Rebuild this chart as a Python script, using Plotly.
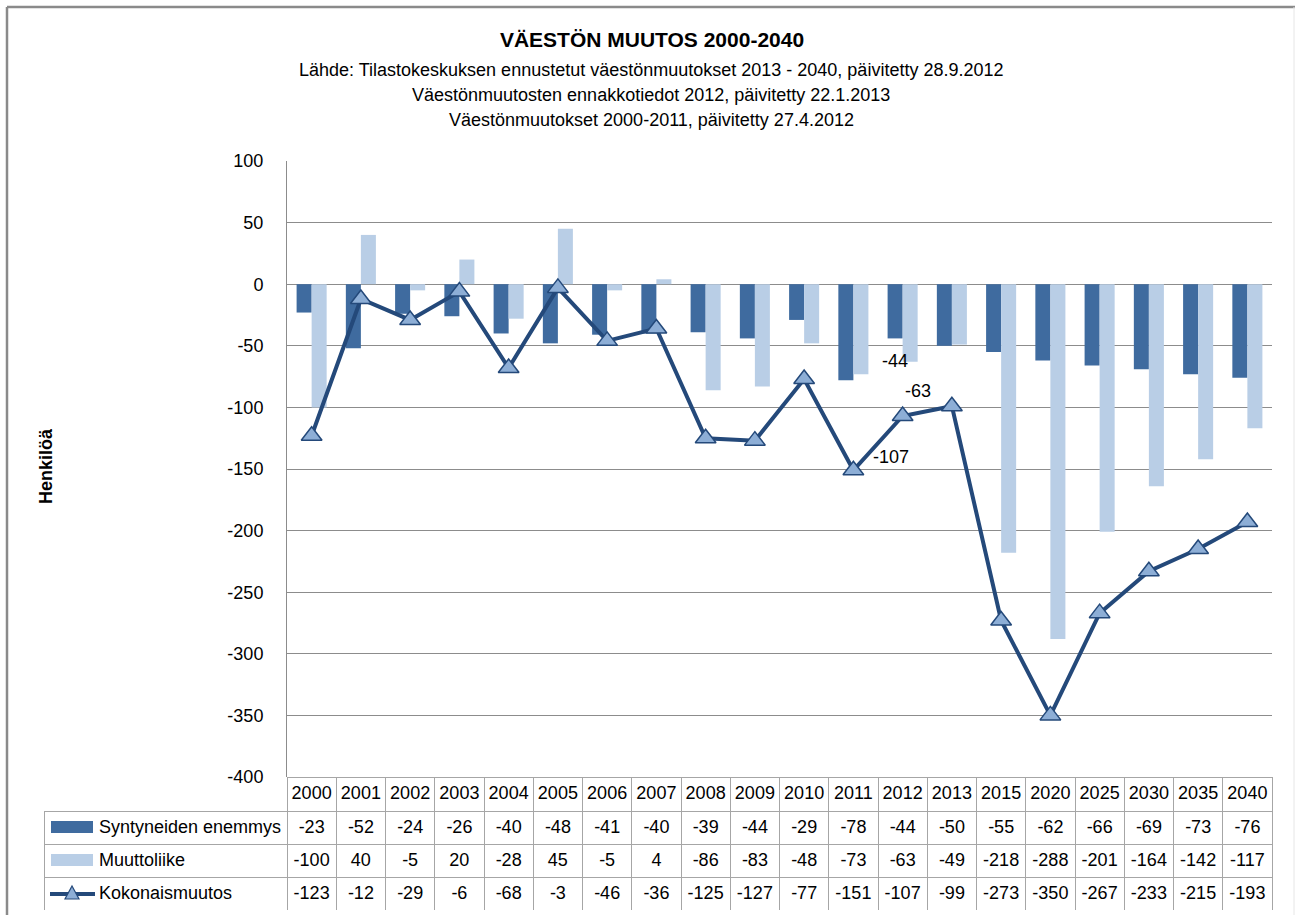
import plotly.graph_objects as go

years = ["2000", "2001", "2002", "2003", "2004", "2005", "2006", "2007", "2008", "2009",
         "2010", "2011", "2012", "2013", "2015", "2020", "2025", "2030", "2035", "2040"]
syntyneiden = [-23, -52, -24, -26, -40, -48, -41, -40, -39, -44,
               -29, -78, -44, -50, -55, -62, -66, -69, -73, -76]
muuttoliike = [-100, 40, -5, 20, -28, 45, -5, 4, -86, -83,
               -48, -73, -63, -49, -218, -288, -201, -164, -142, -117]
kokonais = [-123, -12, -29, -6, -68, -3, -46, -36, -125, -127,
            -77, -151, -107, -99, -273, -350, -267, -233, -215, -193]
series_names = ["Syntyneiden enemmys", "Muuttoliike", "Kokonaismuutos"]
y_tickvals = [100, 50, 0, -50, -100, -150, -200, -250, -300, -350, -400]
y_ticktext = ["100", "50", "0", "-50", "-100", "-150", "-200", "-250", "-300", "-350", "-400"]

W, H = 1295, 915
FONT = "Liberation Sans, Arial, sans-serif"
DARK = "#3F6B9F"
LIGHT = "#B9CEE6"
LINE = "#24497A"
MARK = "#8DAED6"
GRID = "#8C8C8C"
TBL = "#A6A6A6"
CLEAR = "rgba(0,0,0,0)"

def px(x):
    return x / W

def py(y):
    return 1 - y / H

fig = go.Figure()
fig.add_trace(go.Bar(x=years, y=syntyneiden, name=series_names[0], marker=dict(color=DARK, line=dict(width=0))))
fig.add_trace(go.Bar(x=years, y=muuttoliike, name=series_names[1], marker=dict(color=LIGHT, line=dict(width=0))))
fig.add_trace(go.Scatter(x=years, y=kokonais, name=series_names[2], mode="lines+markers",
                         line=dict(color=LINE, width=4),
                         marker=dict(symbol="triangle-up", size=18, color=MARK,
                                     line=dict(color=LINE, width=1.5))))

# data table
header_vals = [""] + years
cell_vals = [["", "", ""]] + [[str(a), str(b), str(c)] for a, b, c in zip(syntyneiden, muuttoliike, kokonais)]
fig.add_trace(go.Table(
    domain=dict(x=[px(44), px(1272)], y=[py(910), py(777)]),
    columnwidth=[243] + [49.25] * len(years),
    header=dict(values=header_vals, height=34, align="center",
                fill=dict(color=[CLEAR] + ["white"] * len(years)),
                line=dict(color=[CLEAR] + [TBL] * len(years), width=1),
                font=dict(family=FONT, size=18, color="black")),
    cells=dict(values=cell_vals, height=33, align="center",
               fill=dict(color="white"),
               line=dict(color=TBL, width=1),
               font=dict(family=FONT, size=18, color="black")),
))

annotations = [
    dict(text="Lähde: Tilastokeskuksen ennustetut väestönmuutokset 2013 - 2040, päivitetty 28.9.2012", x=px(651), y=py(70), font=dict(size=18)),
    dict(text="Väestönmuutosten ennakkotiedot 2012, päivitetty 22.1.2013", x=px(651), y=py(95), font=dict(size=18)),
    dict(text="Väestönmuutokset 2000-2011, päivitetty 27.4.2012", x=px(651), y=py(120), font=dict(size=18)),
    dict(text="<b>Henkilöä</b>", x=px(46), y=py(466), textangle=-90, font=dict(size=18)),
]
for a in annotations:
    a.update(xref="paper", yref="paper", showarrow=False, xanchor="center", yanchor="middle")
    a["font"].update(family=FONT, color="black")

for name, yy in zip(series_names, [827, 860, 893]):
    annotations.append(dict(text=name, xref="paper", yref="paper", x=px(97), y=py(yy),
                            xanchor="left", yanchor="middle", showarrow=False,
                            font=dict(family=FONT, size=18, color="black")))

i12 = years.index("2012")
for val, yv, xs in [(syntyneiden[i12], -62.6, -8), (muuttoliike[i12], -86.9, 15), (kokonais[i12], -140.5, -12)]:
    annotations.append(dict(text=str(val), xref="x", yref="y", x=i12, y=yv, xshift=xs,
                            showarrow=False, font=dict(family=FONT, size=18, color="black")))

shapes = [
    dict(type="line", xref="paper", yref="paper", x0=px(7), x1=px(1295), y0=py(7), y1=py(7),
         line=dict(color="#8A8A8A", width=2.5)),
    dict(type="line", xref="paper", yref="paper", x0=px(7), x1=px(7), y0=py(7), y1=py(915),
         line=dict(color="#8A8A8A", width=2.5)),
    dict(type="line", xref="paper", yref="paper", x0=px(1294), x1=px(1294), y0=py(7), y1=py(915),
         line=dict(color="#E6E6E6", width=1)),
    dict(type="rect", xref="paper", yref="paper", x0=px(51), x1=px(93), y0=py(833), y1=py(821),
         fillcolor=DARK, line=dict(width=0)),
    dict(type="rect", xref="paper", yref="paper", x0=px(51), x1=px(93), y0=py(866), y1=py(854),
         fillcolor=LIGHT, line=dict(width=0)),
    dict(type="line", xref="paper", yref="paper", x0=px(50), x1=px(95), y0=py(894), y1=py(894),
         line=dict(color=LINE, width=4)),
    dict(type="path", xref="paper", yref="paper",
         path=f"M {px(65)} {py(899)} L {px(79)} {py(899)} L {px(72)} {py(886)} Z",
         fillcolor=MARK, line=dict(color=LINE, width=1.2)),
]

fig.update_layout(
    width=W, height=H,
    margin=dict(l=0, r=0, t=0, b=0, pad=0, autoexpand=False),
    title=dict(text="<b>VÄESTÖN MUUTOS 2000-2040</b>", xref="container", yref="container",
               x=652 / W, y=1 - 40 / H, xanchor="center", yanchor="middle",
               font=dict(family=FONT, size=21, color="black")),
    paper_bgcolor="white", plot_bgcolor="white",
    barmode="group", bargap=0.39, bargroupgap=0,
    showlegend=False,
    font=dict(family=FONT, size=18, color="black"),
    xaxis=dict(domain=[px(287), px(1272)], type="category", range=[-0.5, len(years) - 0.5],
               showticklabels=False, showgrid=False, zeroline=False, showline=False, ticks=""),
    yaxis=dict(domain=[py(777), py(161)], range=[-400, 100],
               tickvals=y_tickvals, ticktext=y_ticktext,
               showgrid=True, gridcolor=GRID, gridwidth=1, zeroline=False,
               showline=True, linecolor=GRID, linewidth=1, ticks="",
               tickfont=dict(family=FONT, size=18, color="black"),
               ticklabelstandoff=19),
    annotations=annotations,
    shapes=shapes,
)

fig.write_html("out.html", include_plotlyjs=True, config={"displayModeBar": False},
               post_script=("document.body.style.margin='0';"
                            "document.body.style.overflow='hidden';"
                            "var gd=document.getElementById('{plot_id}');"
                            "gd.style.position='fixed';gd.style.top='0px';gd.style.left='0px';"))
